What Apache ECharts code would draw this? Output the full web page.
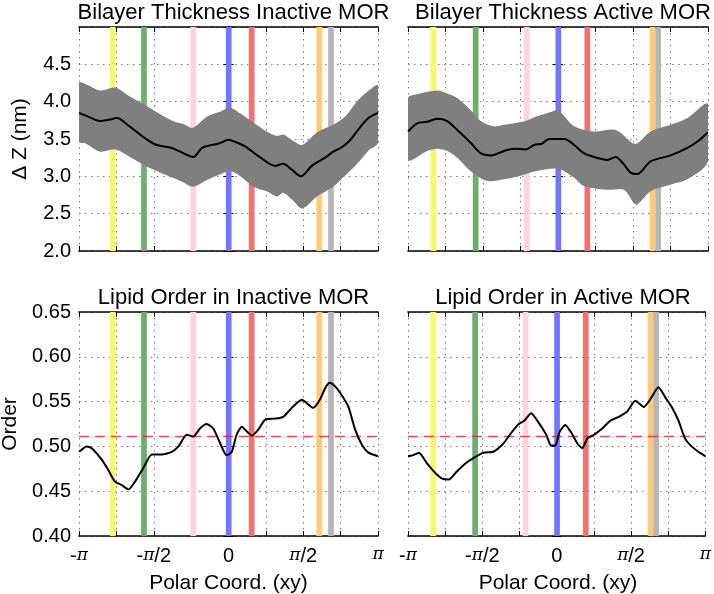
<!DOCTYPE html>
<html><head><meta charset="utf-8">
<script src="https://cdn.jsdelivr.net/npm/echarts@6/dist/echarts.min.js"></script>
<style>html,body{margin:0;padding:0;background:#fff}#c{width:714px;height:594px}</style>
</head><body><div id="c"></div>
<script>
const PI = Math.PI;
const xTickLabels = ['-π', '-π/2', '0', 'π/2', 'π'];
const panelTitles = ['Bilayer Thickness Inactive MOR', 'Bilayer Thickness Active MOR', 'Lipid Order in Inactive MOR', 'Lipid Order in Active MOR'];
const yNameTop = 'Δ Z (nm)';
const yNameBottom = 'Order';
const xName = 'Polar Coord. (xy)';

// residue marker positions (radians): yellow, green, pink, blue, red, orange, gray
const markersInactive = [-2.433, -1.776, -0.740, 0.004, 0.487, 1.908, 2.154];
const markersActive = [-2.61, -1.724, -0.656, 0.007, 0.614, 1.983, 2.10];

// Bilayer thickness, inactive: mean, upper, lower  ([rad, nm])
const thickInactMean = [[-3.14,3.85],[-2.95,3.80],[-2.70,3.74],[-2.50,3.76],[-2.35,3.78],[-2.10,3.68],[-1.82,3.54],[-1.55,3.43],[-1.35,3.40],[-1.19,3.38],[-0.95,3.31],[-0.74,3.26],[-0.56,3.38],[-0.42,3.41],[-0.20,3.44],[0.0,3.49],[0.15,3.46],[0.35,3.40],[0.63,3.27],[0.98,3.14],[1.15,3.17],[1.33,3.09],[1.52,3.00],[1.75,3.14],[2.03,3.25],[2.20,3.33],[2.38,3.39],[2.55,3.48],[2.73,3.63],[2.94,3.78],[3.14,3.85]];
const thickInactUpper = [[-3.14,4.25],[-2.95,4.22],[-2.70,4.15],[-2.38,4.19],[-2.10,4.08],[-1.71,3.94],[-1.17,3.74],[-0.95,3.70],[-0.75,3.65],[-0.45,3.80],[-0.20,3.86],[0.03,3.92],[0.25,3.84],[0.52,3.72],[0.80,3.60],[1.02,3.54],[1.15,3.56],[1.35,3.48],[1.55,3.42],[1.86,3.59],[2.20,3.69],[2.45,3.80],[2.72,4.02],[2.95,4.15],[3.14,4.22]];
const thickInactLower = [[-3.14,3.46],[-3.00,3.44],[-2.70,3.33],[-2.38,3.36],[-2.10,3.27],[-1.71,3.13],[-1.17,2.98],[-0.95,2.92],[-0.75,2.86],[-0.45,2.95],[-0.20,3.02],[0.03,3.07],[0.25,3.00],[0.52,2.86],[0.80,2.80],[1.02,2.73],[1.15,2.78],[1.35,2.68],[1.55,2.57],[1.86,2.73],[2.20,2.86],[2.40,2.98],[2.72,3.18],[2.95,3.35],[3.14,3.45]];

// Bilayer thickness, active
const thickActMean = [[-3.14,3.60],[-2.95,3.71],[-2.74,3.73],[-2.53,3.77],[-2.32,3.74],[-2.11,3.62],[-1.83,3.45],[-1.62,3.31],[-1.41,3.28],[-1.13,3.34],[-0.92,3.37],[-0.68,3.36],[-0.50,3.42],[-0.33,3.44],[-0.19,3.50],[0.0,3.50],[0.13,3.50],[0.34,3.42],[0.54,3.31],[0.75,3.26],[1.03,3.22],[1.21,3.26],[1.38,3.16],[1.52,3.05],[1.66,3.03],[1.94,3.20],[2.36,3.28],[2.71,3.38],[2.95,3.48],[3.14,3.59]];
const thickActUpper = [[-3.14,4.05],[-2.95,4.10],[-2.53,4.15],[-2.32,4.11],[-2.11,4.05],[-1.83,3.89],[-1.62,3.74],[-1.35,3.67],[-1.13,3.69],[-0.92,3.71],[-0.68,3.74],[-0.45,3.80],[-0.15,3.86],[0.0,3.89],[0.34,3.67],[0.75,3.60],[1.21,3.62],[1.55,3.45],[1.66,3.44],[1.94,3.60],[2.36,3.69],[2.71,3.78],[3.14,3.97]];
const thickActLower = [[-3.14,3.22],[-2.74,3.34],[-2.53,3.37],[-2.32,3.34],[-2.11,3.25],[-1.83,3.07],[-1.50,2.94],[-1.13,2.96],[-0.82,3.00],[-0.45,3.07],[0.0,3.10],[0.34,2.98],[0.54,2.87],[1.03,2.82],[1.38,2.82],[1.59,2.64],[1.66,2.62],[1.94,2.80],[2.36,2.89],[2.71,2.96],[3.14,3.20]];

// Lipid order
const orderInact = [[-3.14,0.494],[-2.98,0.500],[-2.875,0.498],[-2.66,0.485],[-2.53,0.474],[-2.39,0.461],[-2.25,0.457],[-2.10,0.452],[-1.96,0.461],[-1.79,0.476],[-1.61,0.491],[-1.40,0.491],[-1.19,0.494],[-1.05,0.500],[-0.88,0.513],[-0.74,0.511],[-0.60,0.520],[-0.46,0.525],[-0.32,0.520],[-0.18,0.504],[-0.04,0.490],[0.07,0.494],[0.17,0.513],[0.28,0.522],[0.38,0.517],[0.49,0.512],[0.63,0.519],[0.77,0.530],[0.98,0.531],[1.15,0.533],[1.33,0.543],[1.54,0.552],[1.78,0.543],[1.92,0.552],[2.03,0.565],[2.13,0.571],[2.24,0.567],[2.38,0.557],[2.52,0.544],[2.66,0.519],[2.80,0.502],[2.94,0.493],[3.14,0.489]];
const orderAct = [[-3.14,0.489],[-3.05,0.490],[-2.91,0.493],[-2.74,0.481],[-2.56,0.470],[-2.42,0.464],[-2.28,0.463],[-2.11,0.472],[-1.93,0.481],[-1.76,0.487],[-1.55,0.493],[-1.34,0.494],[-1.13,0.503],[-0.99,0.513],[-0.82,0.524],[-0.68,0.529],[-0.54,0.537],[-0.40,0.528],[-0.22,0.513],[-0.12,0.501],[-0.03,0.501],[0.06,0.516],[0.18,0.524],[0.30,0.516],[0.44,0.503],[0.54,0.498],[0.65,0.509],[0.79,0.513],[0.96,0.520],[1.14,0.529],[1.31,0.533],[1.49,0.539],[1.66,0.551],[1.84,0.544],[1.97,0.552],[2.15,0.566],[2.29,0.555],[2.43,0.544],[2.57,0.529],[2.71,0.509],[2.85,0.500],[3.02,0.493],[3.14,0.489]];
const orderRef = 0.511;

// ---------- styling / layout ----------
const FONT = 'Liberation Sans, Arial, sans-serif';
const markerColors = ['#f8f86c','#6cae6c','#ffd2dc','#7474ff','#f27272','#ffca74','#b6b6b6'];
const markerHalfWidth = 0.06;
const grids = [
  {left:79, top:27, width:299, height:224},
  {left:408, top:27, width:300, height:224},
  {left:79, top:312, width:299, height:224},
  {left:408, top:312, width:300, height:224}
];
const yRanges = [[2,5,0.5],[2,5,0.5],[0.40,0.65,0.05],[0.40,0.65,0.05]];

const chart = echarts.init(document.getElementById('c'), null, {renderer:'canvas'});

function xLabel(v){
  const k = (v + PI) / (PI/2); const r = Math.round(k);
  if (Math.abs(k - r) > 1e-6 || r < 0 || r >= xTickLabels.length) return '';
  return xTickLabels[r].replace('π', '{p|π}');
}
const xAxes = [], yAxes = [], series = [], titles = [];
grids.forEach((g, i) => {
  const bottomRow = i >= 2, rightCol = i % 2 === 1;
  const [ymin, ymax, yint] = yRanges[i];
  const axLine = {show:true, lineStyle:{color:'#000', width:1.6}};
  const tick = {show:true, inside:true, length:5, lineStyle:{color:'#000', width:1}};
  const split = {show:true, lineStyle:{color:'#777', type:[1.5,4.5], width:1}};
  xAxes.push({type:'value', gridIndex:i, position:'bottom', min:-PI, max:PI, interval:PI/4,
    axisLine:axLine, axisTick:tick, splitLine:split,
    axisLabel:{show:bottomRow, margin:10, formatter:xLabel, color:'#000', fontSize:20, fontFamily:FONT,
      rich:{p:{fontFamily:'DejaVu Serif', fontStyle:'italic', fontSize:17, color:'#000'}}}});
  xAxes.push({type:'value', gridIndex:i, position:'top', min:-PI, max:PI, interval:PI/4,
    axisLine:axLine, axisTick:tick, splitLine:{show:false}, axisLabel:{show:false}});
  yAxes.push({type:'value', gridIndex:i, position:'left', min:ymin, max:ymax, interval:yint,
    axisLine:axLine, axisTick:tick, splitLine:split,
    axisLabel:{show:!rightCol, margin:8, color:'#000', fontSize:20, fontFamily:FONT,
      formatter: v => (!bottomRow && v > ymax - 1e-6) ? '' : v.toFixed(bottomRow ? 2 : 1)}});
  yAxes.push({type:'value', gridIndex:i, position:'right', min:ymin, max:ymax, interval:yint,
    axisLine:axLine, axisTick:tick, splitLine:{show:false}, axisLabel:{show:false}});
  const xi = 2*i, yi = 2*i;
  const markers = rightCol ? markersActive : markersInactive;
  series.push({type:'custom', xAxisIndex:xi, yAxisIndex:yi, z:1, silent:true,
    data: markers.map(c => [c, ymin]),
    renderItem: (params, api) => {
      const c = api.value(0);
      const p0 = api.coord([c - markerHalfWidth, ymax]);
      const p1 = api.coord([c + markerHalfWidth, ymin]);
      return {type:'rect', shape:{x:p0[0], y:p0[1], width:p1[0]-p0[0], height:p1[1]-p0[1]},
        style:{fill: markerColors[params.dataIndex]}};
    }});
  titles.push({text:panelTitles[i], left: g.left + g.width/2, top: g.top - 30, textAlign:'center',
    textStyle:{fontSize:22, fontWeight:'normal', color:'#000', fontFamily:FONT}});
  if (!bottomRow) {
    const mean = rightCol ? thickActMean : thickInactMean;
    const up = rightCol ? thickActUpper : thickInactUpper;
    const lo = rightCol ? thickActLower : thickInactLower;
    series.push({type:'custom', xAxisIndex:xi, yAxisIndex:yi, z:2, silent:true, clip:true,
      data: up,
      renderItem: (params, api) => {
        if (params.dataIndex !== 0) return null;
        const pts = up.map(p => api.coord(p)).concat(lo.slice().reverse().map(p => api.coord(p)));
        return {type:'polygon', shape:{points:pts, smooth:0.3}, style:{fill:'#7f7f7f'}};
      }});
    series.push({type:'line', xAxisIndex:xi, yAxisIndex:yi, z:3, data:mean, showSymbol:false, symbol:'none',
      smooth:0.3, lineStyle:{color:'#000', width:2}, silent:true});
  } else {
    const ord = rightCol ? orderAct : orderInact;
    series.push({type:'line', xAxisIndex:xi, yAxisIndex:yi, z:3, data:[[-PI, orderRef],[PI, orderRef]],
      symbol:'none', lineStyle:{color:'rgba(235,30,30,0.8)', width:1.4, type:[10,6]}, silent:true});
    series.push({type:'line', xAxisIndex:xi, yAxisIndex:yi, z:4, data:ord, symbol:'none',
      smooth:0.2, lineStyle:{color:'#000', width:2}, silent:true});
  }
});

const nameStyle = {fontSize:21, fontFamily:FONT, fill:'#000'};
const graphic = [
  {type:'text', x:20, y:139, rotation:PI/2, style:Object.assign({text:yNameTop, textAlign:'center', textVerticalAlign:'middle'}, nameStyle)},
  {type:'text', x:10, y:424, rotation:PI/2, style:Object.assign({text:yNameBottom, textAlign:'center', textVerticalAlign:'middle'}, nameStyle)},
  {type:'text', x:228.5, y:583, style:Object.assign({text:xName, textAlign:'center', textVerticalAlign:'middle'}, nameStyle)},
  {type:'text', x:558, y:583, style:Object.assign({text:xName, textAlign:'center', textVerticalAlign:'middle'}, nameStyle)}
];

chart.setOption({animation:false, title:titles, grid:grids, xAxis:xAxes, yAxis:yAxes, series:series, graphic:graphic});
</script></body></html>
